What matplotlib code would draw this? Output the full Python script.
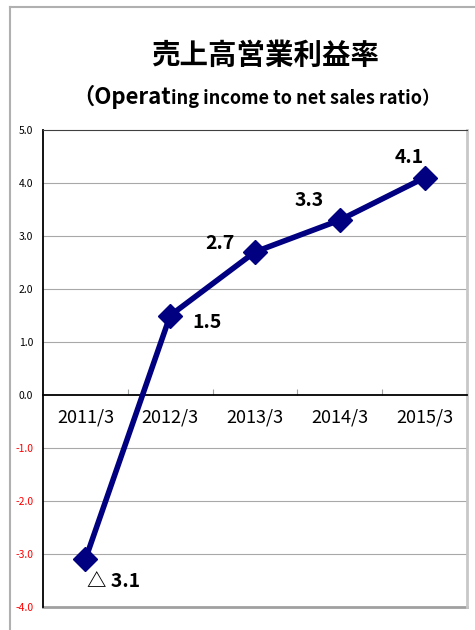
import numpy as np
import matplotlib
matplotlib.use("Agg")
import matplotlib.pyplot as plt
from matplotlib.lines import Line2D

plt.rcParams['font.family'] = ['Noto Sans CJK JP', 'DejaVu Sans']

# ============================================================
# DATA
# ============================================================
categories = ["2011/3", "2012/3", "2013/3", "2014/3", "2015/3"]
ratio = [-3.1, 1.5, 2.7, 3.3, 4.1]
point_labels = ["△ 3.1", "1.5", "2.7", "3.3", "4.1"]
y_ticks = [-4.0, -3.0, -2.0, -1.0, 0.0, 1.0, 2.0, 3.0, 4.0, 5.0]

title_jp = "売上高営業利益率"
subtitle_big = "（Operat"
subtitle_small = "ing income to net sales ratio）"

# label offsets in pixels (dx, dy)
label_offsets = [(28, -22), (37, -7), (-35, 8), (-31, 20), (-15, 20)]

# ============================================================
# FIGURE
# ============================================================
W, H = 475, 630
fig = plt.figure(figsize=(W / 100, H / 100), dpi=100)

# outer frame (top + left)
frame_col = "#b0b0b0"
fig.add_artist(Line2D([10 / W, 1.0], [1 - 7 / H, 1 - 7 / H], transform=fig.transFigure,
                      color=frame_col, lw=1.5))
fig.add_artist(Line2D([10 / W, 10 / W], [0.0, 1 - 7 / H], transform=fig.transFigure,
                      color=frame_col, lw=1.5))

# titles
fig.text(265 / W, 1 - 56 / H, title_jp, ha="center", va="center",
         fontsize=20.5, fontweight="bold")

t1 = fig.text(72 / W, 1 - 104 / H, subtitle_big, ha="left", va="baseline",
              fontsize=16, fontweight="bold")
fig.canvas.draw()
bb = t1.get_window_extent()
fig.text(bb.x1 / W, 1 - 104 / H, subtitle_small, ha="left", va="baseline",
         fontsize=13, fontweight="bold")

# plot area
ax = fig.add_axes([43 / W, 23 / H, 424 / W, 477 / H])
x = np.arange(len(categories))

ax.set_xlim(-0.5, len(categories) - 0.5)
ax.set_ylim(min(y_ticks), max(y_ticks))

ax.set_yticks(y_ticks)
ax.set_yticklabels([f"{v:.1f}" for v in y_ticks], fontsize=7.5)
for lab, v in zip(ax.get_yticklabels(), y_ticks):
    lab.set_color("#ff0000" if v < 0 else "black")
ax.tick_params(axis="y", length=0, pad=7)

# gridlines
for v in y_ticks:
    if v not in (0.0, min(y_ticks), max(y_ticks)):
        ax.axhline(v, color="#a8a8a8", lw=0.8, zorder=0)

# x axis sitting on zero
ax.spines["bottom"].set_position(("data", 0))
ax.spines["bottom"].set_color("black")
ax.spines["bottom"].set_linewidth(1.3)
ax.set_xticks(x[:-1] + 0.5)
ax.set_xticklabels([])
ax.tick_params(axis="x", which="major", direction="in", length=4, color="#a0a0a0")
ax.set_xticks(x, minor=True)
ax.set_xticklabels(categories, minor=True, fontsize=13)
ax.tick_params(axis="x", which="minor", length=0, pad=10)

ax.spines["left"].set_color("black")
ax.spines["left"].set_linewidth(1.3)
ax.spines["top"].set_color("#404040")
ax.spines["top"].set_linewidth(0.8)
ax.spines["right"].set_color("#c8c8c8")
ax.spines["right"].set_linewidth(2)
ax.axhline(min(y_ticks), color="#a0a0a0", lw=2, clip_on=False)

# series
ax.plot(x, ratio, color="#000080", lw=4, marker="D", markersize=12,
        clip_on=False, zorder=3)

for xi, yi, lab, (dx, dy) in zip(x, ratio, point_labels, label_offsets):
    ax.annotate(lab, (xi, yi), xytext=(dx, dy), textcoords="offset pixels",
                ha="center", va="center", fontsize=14, fontweight="bold")

fig.savefig("out.png", dpi=100)
